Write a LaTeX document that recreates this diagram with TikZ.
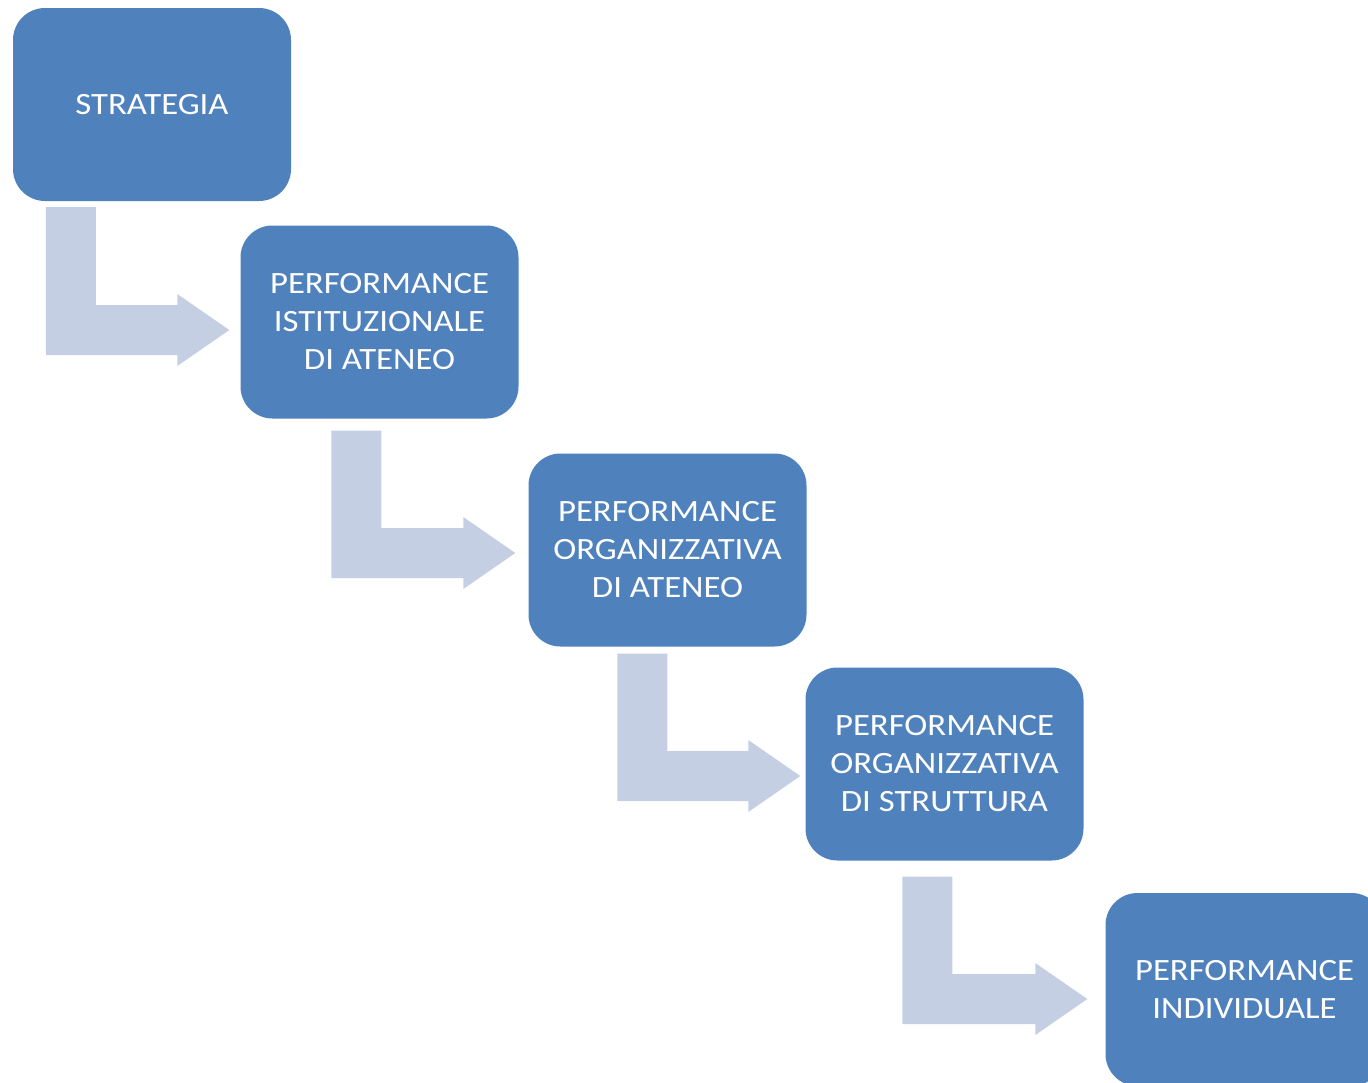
\documentclass[tikz,border=0pt]{standalone}
\usepackage{fontspec}
\setmainfont{Carlito}[FakeStretch=1.12]
\usetikzlibrary{calc}

\definecolor{stageblue}{HTML}{4F81BD}
\definecolor{flowblue}{HTML}{C4CFE3}

\tikzset{
  stage/.style={fill=stageblue, text=white, rounded corners=32pt,
    minimum width=278pt, minimum height=193pt, align=center,
    font=\fontsize{31}{38}\selectfont},
}

\begin{document}
\begin{tikzpicture}[x=1pt,y=-1pt]
\clip (0,0) rectangle (1368,1082);
% cascade of stages
\node[stage] (s1) at (152,104.5) {STRATEGIA};
\node[stage] (s2) at (379.5,322) {PERFORMANCE\\ISTITUZIONALE\\DI ATENEO};
\node[stage] (s3) at (667.5,550) {PERFORMANCE\\ORGANIZZATIVA\\DI ATENEO};
\node[stage] (s4) at (944.5,764) {PERFORMANCE\\ORGANIZZATIVA\\DI STRUTTURA};
\node[stage] (s5) at (1244.5,989.5) {PERFORMANCE\\INDIVIDUALE};

% bent arrows: down from one stage, then right into the next
\foreach \a/\b/\sx/\sy/\tx/\ty in {s1/s2/33/6/-11/8, s2/s3/91/12/-13/3,
    s3/s4/89/7/-5/12, s4/s5/97/16/-18/9.5} {
  \fill[flowblue] let \p1=($(\a.south west)+(\sx,\sy)$),
      \p2=($(\b.west)+(\tx,\ty)$) in
    (\x1,\y1) -- (\x1+50pt,\y1) -- (\x1+50pt,\y2+25pt)
    -- (\x2-52pt,\y2+25pt) -- (\x2-52pt,\y2+36pt) -- (\x2,\y2)
    -- (\x2-52pt,\y2-36pt) -- (\x2-52pt,\y2-25pt) -- (\x1,\y2-25pt) -- cycle;
}
\end{tikzpicture}
\end{document}
